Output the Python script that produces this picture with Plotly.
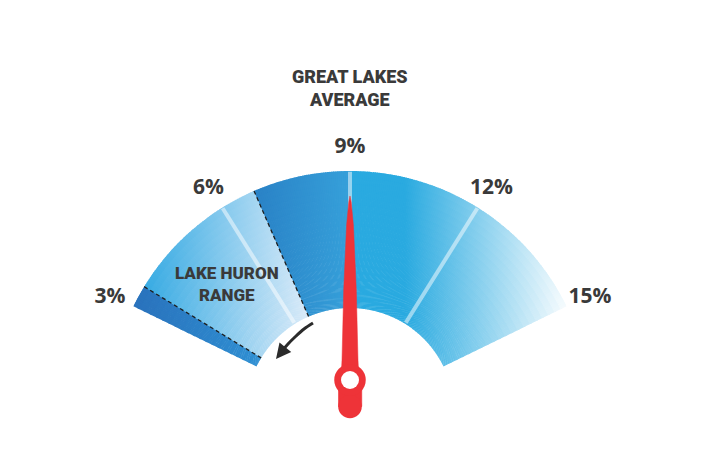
import math
import numpy as np
import plotly.graph_objects as go

# ---------------- data ----------------
tick_values = [3, 6, 9, 12, 15]
tick_labels = ["3%", "6%", "9%", "12%", "15%"]
separator_values = [6, 9, 12]
huron_range = [3.5, 6.8]            # Lake Huron range (dashed lines)
great_lakes_average = 9             # needle value
band_edges = [3, 3.5, 6.8, 9, 15]   # colour bands of the dial

# ---------------- style / geometry ----------------
OFF = 8                    # page body margin of the browser
W, H = 702 - 2 * OFF, 467 - 2 * OFF
CX, CY = 350 - OFF, 412 - OFF   # dial centre (figure px)
R_OUT = 241                # outer radius (px)
R_IN = 104                 # inner radius (px)
RMAX = 1.16                # radial range (room for labels)
START_ANGLE = 154          # absolute angle of the lowest tick
DEG_PER_PCT = 32 / 3       # degrees per percentage point
INNER = R_IN / R_OUT
LABEL_R = 267              # px radius of tick labels
LABEL_DROP = 3             # px the labels sit below that radius
SECTOR_PAD = 4             # degrees of extra sector so edge labels are kept

band_gradients = [        # (x0, colour0, x1, colour1) in page px
    (135, "#2a72bc", 262, "#2f90d3"),
    (145, "#38abe3", 305, "#d6e9f8"),
    (255, "#2a82c6", 350, "#36a0da"),
    (405, "#2aaae0", 572, "#ffffff"),
]
TEXT = "#3a3a3a"
RED = "#ee3338"
NUM_FONT = "Open Sans"
COND_FONT = "Roboto"


def theta_of(v):
    return round((v - tick_values[0]) * DEG_PER_PCT, 6)


def hex2rgb(h):
    h = h.lstrip("#")
    return np.array([int(h[i:i + 2], 16) for i in (0, 2, 4)], float)


def grad(x, g):
    x0, c0, x1, c1 = g
    t = min(max((x - x0) / (x1 - x0), 0), 1)
    c = hex2rgb(c0) * (1 - t) + hex2rgb(c1) * t
    return "rgb(%d,%d,%d)" % tuple(np.round(c))


def to_polar(dx, dy):
    """px offset from dial centre (dy up) -> (r, theta) in axis units"""
    r = math.hypot(dx, dy) / R_OUT
    a = math.degrees(math.atan2(dy, dx))
    return r, START_ANGLE - a


fig = go.Figure()

# ---- dial bands (gradient cells, slightly overlapping to avoid seams) ----
N_RING = 20
STEP = 0.5
th, rr, bb, ww, cols = [], [], [], [], []
dr = (1 - INNER) / N_RING
theta_end = theta_of(band_edges[-1])
for (lo, hi), g in zip(zip(band_edges[:-1], band_edges[1:]), band_gradients):
    t0, t1 = theta_of(lo), theta_of(hi)
    n = max(1, int(math.ceil((t1 - t0) / STEP)))
    w = (t1 - t0) / n
    for i in range(n):
        ts = t0 + i * w
        te = ts + w
        if te < theta_end - 1e-6:
            te += 0.4 * w
        tc = t0 + (i + 0.5) * w
        a = math.radians(START_ANGLE - tc)
        for k in range(N_RING):
            base = INNER + k * dr
            top = min(base + dr * 1.35, 1.0)
            rc = base + dr / 2
            x = (CX + OFF) + R_OUT * rc * math.cos(a)
            th.append((ts + te) / 2)
            rr.append(top - base)
            bb.append(base)
            ww.append(te - ts)
            cols.append(grad(x, g))

fig.add_trace(go.Barpolar(
    theta=th, r=rr, base=bb, width=ww,
    marker=dict(color=cols, line=dict(width=0)),
    hoverinfo="skip",
))

# ---- separator lines ----
for v in separator_values:
    fig.add_trace(go.Scatterpolar(
        r=[INNER + 0.005, 1 - 0.003], theta=[theta_of(v)] * 2, mode="lines",
        line=dict(color="rgba(255,255,255,0.5)", width=4),
        hoverinfo="skip", cliponaxis=False,
    ))

# ---- Lake Huron range dashed lines ----
for v in huron_range:
    fig.add_trace(go.Scatterpolar(
        r=[INNER, 1], theta=[theta_of(v)] * 2, mode="lines",
        line=dict(color="#1e1e1e", width=1.3, dash="4px,3px"),
        hoverinfo="skip", cliponaxis=False,
    ))

# ---- needle ----
PIVOT_UP = 32  # px above dial centre
a_n = math.radians(START_ANGLE - theta_of(great_lakes_average))
ux, uy = math.cos(a_n), math.sin(a_n)
nx, ny = -uy, ux
profile = [(0, 9), (20, 8), (90, 6.3), (155, 3.4), (178, 1.2), (184, 0)]
pts = [(d, hw) for d, hw in profile] + [(d, -hw) for d, hw in reversed(profile)]
nr, nt = [], []
for d, hw in pts:
    dx = d * ux + hw * nx
    dy = PIVOT_UP + d * uy + hw * ny
    r, t = to_polar(dx, dy)
    nr.append(r)
    nt.append(t)
fig.add_trace(go.Scatterpolar(r=nr, theta=nt, mode="lines", fill="toself",
                              fillcolor=RED, line=dict(color=RED, width=0.5),
                              hoverinfo="skip", cliponaxis=False))

# tail (rounded bar below the pivot)
TAIL_HW, TAIL_LEN = 11.8, 26.5
tr, tt = [], []
for dx, dy in [(-TAIL_HW, PIVOT_UP), (TAIL_HW, PIVOT_UP),
               (TAIL_HW, PIVOT_UP - TAIL_LEN), (-TAIL_HW, PIVOT_UP - TAIL_LEN)]:
    r, t = to_polar(dx, dy)
    tr.append(r)
    tt.append(t)
fig.add_trace(go.Scatterpolar(r=tr, theta=tt, mode="lines", fill="toself",
                              fillcolor=RED, line=dict(color=RED, width=0.5),
                              hoverinfo="skip", cliponaxis=False))
r, t = to_polar(0, PIVOT_UP - TAIL_LEN)
fig.add_trace(go.Scatterpolar(r=[r], theta=[t], mode="markers",
                              marker=dict(size=2 * TAIL_HW, color=RED, line=dict(width=0)),
                              hoverinfo="skip", cliponaxis=False))
# pivot ring
r, t = to_polar(0, PIVOT_UP)
fig.add_trace(go.Scatterpolar(r=[r], theta=[t], mode="markers",
                              marker=dict(size=31.5, color=RED, line=dict(width=0)),
                              hoverinfo="skip", cliponaxis=False))
fig.add_trace(go.Scatterpolar(r=[r], theta=[t], mode="markers",
                              marker=dict(size=18, color="white", line=dict(width=0)),
                              hoverinfo="skip", cliponaxis=False))

# ---- curved pointer arrow towards the low end of the range ----
arrow_px = [(313, 323), (304, 329), (295, 337), (288, 344), (282, 351)]
ar, at = [], []
for x, y in arrow_px:
    r, t = to_polar(x - (CX + OFF), (CY + OFF) - y)
    ar.append(r)
    at.append(t)
fig.add_trace(go.Scatterpolar(r=ar, theta=at, mode="lines",
                              line=dict(color="#2b2b2b", width=3, shape="spline"),
                              hoverinfo="skip", cliponaxis=False))

# ---- tick labels ----
lr, lt = [], []
for v in tick_values:
    a = math.radians(START_ANGLE - theta_of(v))
    r, t = to_polar(LABEL_R * math.cos(a), LABEL_R * math.sin(a) - LABEL_DROP)
    lr.append(r)
    lt.append(t)
fig.add_trace(go.Scatterpolar(
    r=lr, theta=lt,
    mode="text", text=tick_labels, textposition="middle center",
    textfont=dict(family=NUM_FONT, size=21, color=TEXT, weight="bold"),
    hoverinfo="skip", cliponaxis=False,
))

fig.update_layout(
    width=W, height=H,
    margin=dict(l=0, r=0, t=0, b=0),
    paper_bgcolor="white",
    showlegend=False,
    polar=dict(
        domain=dict(x=[0, 2 * CX / W], y=[(H - CY) / H, (H - CY + R_OUT * RMAX) / H]),
        sector=[START_ANGLE - theta_end - SECTOR_PAD, START_ANGLE + SECTOR_PAD],
        bgcolor="rgba(0,0,0,0)",
        radialaxis=dict(range=[0, RMAX], visible=False, showgrid=False),
        angularaxis=dict(rotation=START_ANGLE, direction="clockwise",
                         visible=False, showgrid=False),
    ),
)


def px_ann(text, x, y, size):
    fig.add_annotation(text=text, x=(x - OFF) / W, y=1 - (y - OFF) / H,
                       xref="paper", yref="paper",
                       xanchor="center", yanchor="middle", showarrow=False,
                       font=dict(family=COND_FONT, size=size, color=TEXT, weight=900))


px_ann("GREAT LAKES<br>AVERAGE", 350, 88, 18)
px_ann("LAKE HURON<br>RANGE", 227, 284, 17)

# arrow head
fig.add_annotation(x=(276 - OFF) / W, y=1 - (359 - OFF) / H, xref="paper", yref="paper",
                   ax=8, ay=-10, text="", showarrow=True,
                   arrowhead=2, arrowsize=1.0, arrowwidth=3, arrowcolor="#2b2b2b")

fig.write_html("out.html")
